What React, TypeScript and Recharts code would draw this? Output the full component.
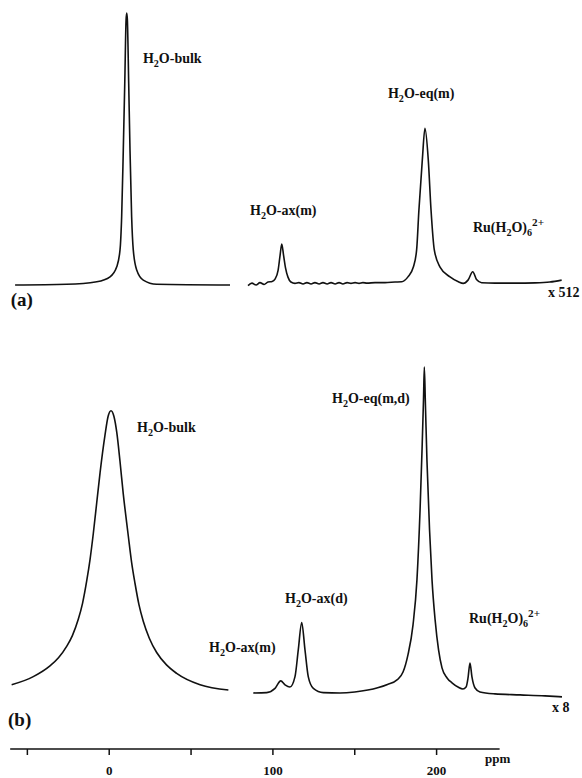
import React from 'react';
import { LineChart, Line, XAxis, YAxis, ReferenceDot, ReferenceLine } from 'recharts';

type Pt = [number, number];

// [ppm, intensity]; intensity is relative to the tallest peak of each panel
const panelABulk: Pt[] = [
  [-57.5, 0], [-26.0, 0.26], [-7.6, 1.2], [0.5, 3.0], [4.6, 6.7], [6.6, 12.9], [7.6, 25.1],
  [8.6, 49.6], [9.5, 74.2], [10.3, 97.4], [10.7, 100], [11.1, 97.4], [11.9, 74.2], [12.7, 49.6],
  [13.7, 25.1], [14.7, 12.9], [16.8, 5.5], [20.8, 1.8], [29.0, 0.26], [73.8, 0],
];

const panelAComplex: Pt[] = [
  [84.8, -0.2], [87.2, 0.7], [89.7, 0], [92.1, 0.9], [94.6, 0.2], [97.0, 1.1], [99.5, 1.3],
  [101.3, 2.2], [103.2, 5.5], [104.4, 11.0], [105.4, 15.1], [106.5, 11.0], [107.7, 6.3],
  [109.2, 2.9], [111.0, 1.1], [113.5, 0.6], [115.9, 0.9], [118.4, 0.4], [120.8, 0.9],
  [123.3, 0.4], [125.7, 0.9], [128.2, 0.4], [130.6, 0.9], [133.1, 0.4], [135.5, 0.9],
  [138.0, 0.4], [140.4, 0.9], [142.8, 0.4], [145.3, 0.9], [147.7, 0.6], [150.2, 0.9],
  [152.6, 0.6], [155.0, 0.9], [157.5, 0.7], [162.4, 0.9], [168.5, 0.9], [174.6, 1.1],
  [178.7, 1.2], [182.5, 3.0], [185.8, 6.6], [187.8, 12.9], [189.2, 27.6], [191.3, 46.2],
  [192.9, 57.6], [194.9, 46.2], [196.6, 27.6], [198.6, 12.9], [202.1, 6.6], [208.2, 3.0],
  [213.3, 1.2], [216.3, 0.6], [219.2, 1.8], [222.1, 4.9], [224.4, 2.0], [227.5, 0.85],
  [235.7, 0.7], [247.9, 0.7], [260.1, 0.8], [269.2, 1.1], [276.4, 1.8],
];

const panelBBulk: Pt[] = [
  [-59.6, 2.5], [-46.4, 5.0], [-36.2, 8.3], [-31.0, 10.8], [-26.0, 14.3], [-22.5, 17.6],
  [-18.9, 22.6], [-16.3, 27.5], [-13.7, 34.5], [-11.7, 41.0], [-9.7, 49.0], [-7.6, 58.5],
  [-5.6, 67.5], [-2.6, 79.0], [-0.7, 84.8], [1.1, 86.6], [2.9, 84.8], [4.6, 80.0], [6.6, 71.0],
  [8.6, 61.0], [10.6, 52.5], [11.7, 48.0], [13.7, 40.0], [15.8, 33.5], [18.2, 27.0],
  [20.8, 22.0], [24.5, 16.8], [29.0, 12.4], [35.0, 8.6], [41.2, 6.0], [55.5, 2.5], [72.8, 0.9],
];

const panelBComplex: Pt[] = [
  [88.0, 0], [96.2, 0.1], [101.3, 1.4], [104.8, 3.7], [107.4, 2.5], [110.4, 1.8], [113.5, 5.0],
  [115.5, 13.2], [117.6, 21.6], [119.6, 13.2], [121.6, 5.0], [124.7, 1.4], [130.8, 0.1],
  [141.0, 0], [150.0, 0.3], [158.0, 0.9], [164.0, 1.6], [170.0, 2.6], [175.8, 4.0],
  [179.5, 6.4], [182.5, 11.7], [185.6, 20.9], [188.0, 34.7], [189.9, 56.1], [191.1, 74.5],
  [192.0, 89.9], [192.5, 100], [193.1, 89.9], [194.1, 71.5], [195.7, 50.0], [197.2, 34.7],
  [199.1, 22.4], [201.2, 13.2], [203.3, 7.7], [206.4, 4.6], [209.4, 3.1], [213.1, 1.8],
  [216.1, 1.2], [218.0, 1.8], [219.2, 4.6], [220.4, 9.2], [221.6, 4.9], [223.5, 1.5],
  [226.5, 0.3], [235.7, -0.3], [251.0, -0.6], [266.2, -0.9], [276.6, -1.2],
];

const ppmTicks = [-50, 0, 50, 100, 150, 200];
const labelledTicks = [0, 100, 200];
const axisSpan = [-60.5, 238.5];

// peak annotations: "_x" = subscript char, "^..." = superscript rest
const labelsA = [
  { text: 'H_2O-bulk', ppm: 20.6, v: 81.6 },
  { text: 'H_2O-ax(m)', ppm: 86.0, v: 25.7 },
  { text: 'H_2O-eq(m)', ppm: 170.3, v: 68.8 },
  { text: 'Ru(H_2O)_6^2+', ppm: 222.2, v: 19.5 },
  { text: 'x 512', ppm: 268.1, v: -4.4 },
];
const labelsB = [
  { text: 'H_2O-bulk', ppm: 17.0, v: 80.1 },
  { text: 'H_2O-ax(m)', ppm: 61.0, v: 12.6 },
  { text: 'H_2O-ax(d)', ppm: 107.4, v: 27.6 },
  { text: 'H_2O-eq(m,d)', ppm: 136.1, v: 89.0 },
  { text: 'Ru(H_2O)_6^2+', ppm: 219.8, v: 21.5 },
  { text: 'x 8', ppm: 270.5, v: -5.8 },
];

const FONT = '"Liberation Serif", "Times New Roman", serif';
const INK = '#111';

const toRows = (pts: Pt[]) => pts.map(([ppm, v]) => ({ ppm, v }));

function splitMarkup(s: string) {
  const parts: { t: string; shift: number }[] = [];
  let buf = '';
  let i = 0;
  while (i < s.length) {
    const c = s[i];
    if (c === '_') {
      if (buf) parts.push({ t: buf, shift: 0 });
      buf = '';
      parts.push({ t: s[i + 1], shift: 1 });
      i += 2;
      continue;
    }
    if (c === '^') {
      if (buf) parts.push({ t: buf, shift: 0 });
      buf = '';
      parts.push({ t: s.slice(i + 1), shift: -1 });
      break;
    }
    buf += c;
    i++;
  }
  if (buf) parts.push({ t: buf, shift: 0 });
  return parts;
}

const RichText = ({ x, y, text, size }: { x: number; y: number; text: string; size: number }) => {
  const parts = splitMarkup(text);
  let cur = 0;
  return (
    <text x={x} y={y} fontFamily={FONT} fontWeight="bold" fontSize={size} fill={INK}>
      {parts.map((p, i) => {
        const off = p.shift === 1 ? size * 0.3 : p.shift === -1 ? -size * 0.45 : 0;
        const dy = off - cur;
        cur = off;
        const fs = p.shift === 1 ? size * 0.72 : p.shift === -1 ? size * 0.8 : size;
        return (
          <tspan key={i} dy={dy} fontSize={fs}>
            {p.t}
          </tspan>
        );
      })}
    </text>
  );
};

const textDot = (text: string, size: number) => (props: any) => (
  <RichText x={props.cx} y={props.cy} text={text} size={size} />
);

export default function App() {
  return (
    <div style={{ position: 'absolute', left: 0, top: 0, background: '#fff' }}>
      <LineChart width={582} height={778} margin={{ top: 0, right: 12, bottom: 0, left: 11 }}>
        <XAxis
          type="number"
          dataKey="ppm"
          domain={[-60, 281.5]}
          allowDataOverflow
          ticks={ppmTicks}
          interval={0}
          height={29}
          axisLine={false}
          tickSize={6}
          tickMargin={11}
          tickLine={{ stroke: INK, strokeWidth: 1.5 }}
          tickFormatter={(v: number) => (labelledTicks.includes(v) ? String(v) : '')}
          tick={{ fontFamily: FONT, fontWeight: 'bold', fontSize: 13, fill: INK }}
        />
        <YAxis yAxisId="a" hide type="number" domain={[-170.6, 104.8]} allowDataOverflow />
        <YAxis yAxisId="b" hide type="number" domain={[-17.2, 212.6]} allowDataOverflow />

        {[panelABulk, panelAComplex].map((seg, i) => (
          <Line
            key={`a${i}`}
            yAxisId="a"
            data={toRows(seg)}
            dataKey="v"
            type="monotone"
            stroke={INK}
            strokeWidth={1.6}
            dot={false}
            isAnimationActive={false}
          />
        ))}
        {[panelBBulk, panelBComplex].map((seg, i) => (
          <Line
            key={`b${i}`}
            yAxisId="b"
            data={toRows(seg)}
            dataKey="v"
            type="monotone"
            stroke={INK}
            strokeWidth={1.6}
            dot={false}
            isAnimationActive={false}
          />
        ))}

        <ReferenceLine
          yAxisId="b"
          segment={[{ x: axisSpan[0], y: -17.2 }, { x: axisSpan[1], y: -17.2 }]}
          stroke={INK}
          strokeWidth={1.6}
          ifOverflow="visible"
        />

        {labelsA.map((l) => (
          <ReferenceDot key={`la-${l.text}`} yAxisId="a" x={l.ppm} y={l.v} ifOverflow="visible" shape={textDot(l.text, 14)} />
        ))}
        {labelsB.map((l) => (
          <ReferenceDot key={`lb-${l.text}`} yAxisId="b" x={l.ppm} y={l.v} ifOverflow="visible" shape={textDot(l.text, 14)} />
        ))}
        <ReferenceDot yAxisId="a" x={-60.2} y={-7.7} ifOverflow="visible" shape={textDot('(a)', 19)} />
        <ReferenceDot yAxisId="b" x={-61.8} y={-10.1} ifOverflow="visible" shape={textDot('(b)', 19)} />
        <ReferenceDot yAxisId="b" x={229.6} y={-21.5} ifOverflow="visible" shape={textDot('ppm', 13)} />
      </LineChart>
    </div>
  );
}
